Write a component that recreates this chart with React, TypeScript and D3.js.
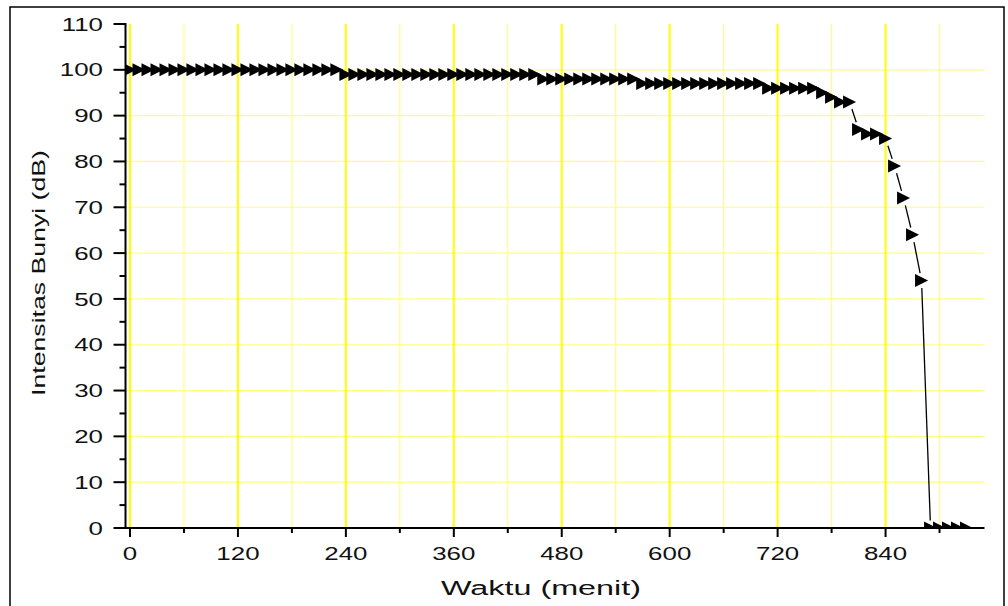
import React, { useEffect, useRef } from "react";
import * as d3 from "d3";

const minutes = [
  0, 10, 20, 30, 40, 50, 60, 70, 80, 90, 100, 110, 120, 130, 140, 150, 160, 170, 180, 190, 200, 210, 220, 230,
  240, 250, 260, 270, 280, 290, 300, 310, 320, 330, 340, 350, 360, 370, 380, 390, 400, 410, 420, 430, 440, 450,
  460, 470, 480, 490, 500, 510, 520, 530, 540, 550, 560,
  570, 580, 590, 600, 610, 620, 630, 640, 650, 660, 670, 680, 690, 700,
  710, 720, 730, 740, 750, 760,
  770, 780, 790, 800,
  810, 820, 830, 840, 850, 860, 870, 880,
  890, 900, 910, 920, 930,
];

const intensity = [
  100, 100, 100, 100, 100, 100, 100, 100, 100, 100, 100, 100, 100, 100, 100, 100, 100, 100, 100, 100, 100, 100, 100, 100,
  99, 99, 99, 99, 99, 99, 99, 99, 99, 99, 99, 99, 99, 99, 99, 99, 99, 99, 99, 99, 99, 99,
  98, 98, 98, 98, 98, 98, 98, 98, 98, 98, 98,
  97, 97, 97, 97, 97, 97, 97, 97, 97, 97, 97, 97, 97, 97,
  96, 96, 96, 96, 96, 96,
  95, 94, 93, 93,
  87, 86, 86, 85, 79, 72, 64, 54,
  0, 0, 0, 0, 0,
];

const xTickValues = [0, 120, 240, 360, 480, 600, 720, 840];
const xMinorValues = [60, 180, 300, 420, 540, 660, 780, 900];
const yTickValues = [0, 10, 20, 30, 40, 50, 60, 70, 80, 90, 100, 110];
const yMinorValues = [5, 15, 25, 35, 45, 55, 65, 75, 85, 95, 105];
const yGridValues = [10, 20, 30, 40, 50, 60, 70, 80, 90, 100];
const xTitle = "Waktu (menit)";
const yTitle = "Intensitas Bunyi (dB)";

const FONT = "'Liberation Sans', Arial, sans-serif";

export default function App() {
  const ref = useRef<SVGSVGElement>(null);

  useEffect(() => {
    const svg = d3.select(ref.current);
    svg.selectAll("*").remove();

    const left = 125.5, right = 984.5, top = 24, bottom = 528;
    const x = d3.scaleLinear().domain([-5, 950]).range([left, right]);
    const y = d3.scaleLinear().domain([0, 110]).range([bottom, top]);

    // outer frame
    svg.append("rect").attr("x", 10).attr("y", 7).attr("width", 994).attr("height", 610)
      .attr("fill", "white").attr("stroke", "black").attr("stroke-width", 1.5);

    // grid
    const g = svg.append("g");
    g.selectAll("line.hg").data(yGridValues).enter().append("line")
      .attr("x1", left).attr("x2", right).attr("y1", (d) => y(d)).attr("y2", (d) => y(d))
      .attr("stroke", "#ffff80").attr("stroke-width", 1.2);
    g.selectAll("line.vm").data(xMinorValues).enter().append("line")
      .attr("x1", (d) => x(d)).attr("x2", (d) => x(d)).attr("y1", top).attr("y2", bottom)
      .attr("stroke", "#ffff80").attr("stroke-width", 1.2);
    g.selectAll("line.vM").data(xTickValues).enter().append("line")
      .attr("x1", (d) => x(d)).attr("x2", (d) => x(d)).attr("y1", top).attr("y2", bottom)
      .attr("stroke", "#ffff00").attr("stroke-width", 2);

    // clip
    svg.append("defs").append("clipPath").attr("id", "plotclip").append("rect")
      .attr("x", left).attr("y", top).attr("width", right - left).attr("height", bottom - top);

    const data = minutes.map((m, i) => ({ px: x(m), py: y(intensity[i]) }));
    const dg = svg.append("g").attr("clip-path", "url(#plotclip)");

    // connecting line with gaps near symbols
    const gap = 7.5;
    for (let i = 0; i < data.length - 1; i++) {
      const a = data[i], b = data[i + 1];
      const dx = b.px - a.px, dy = b.py - a.py;
      const L = Math.hypot(dx, dy);
      if (L <= 2 * gap) continue;
      const ux = dx / L, uy = dy / L;
      dg.append("line")
        .attr("x1", a.px + ux * gap).attr("y1", a.py + uy * gap)
        .attr("x2", b.px - ux * gap).attr("y2", b.py - uy * gap)
        .attr("stroke", "black").attr("stroke-width", 1.3);
    }

    // triangle markers pointing right
    const w = 13, h = 13;
    dg.selectAll("path.m").data(data).enter().append("path")
      .attr("d", (d) => `M${d.px - w / 2},${d.py - h / 2}L${d.px + w / 2},${d.py}L${d.px - w / 2},${d.py + h / 2}Z`)
      .attr("fill", "black");

    // axes
    const ax = svg.append("g");
    ax.append("line").attr("x1", left).attr("x2", right).attr("y1", bottom).attr("y2", bottom)
      .attr("stroke", "black").attr("stroke-width", 2);
    ax.append("line").attr("x1", left).attr("x2", left).attr("y1", top - 1).attr("y2", bottom + 1)
      .attr("stroke", "black").attr("stroke-width", 2);

    ax.selectAll("line.xt").data(xTickValues).enter().append("line")
      .attr("x1", (d) => x(d)).attr("x2", (d) => x(d)).attr("y1", bottom).attr("y2", bottom + 9)
      .attr("stroke", "black").attr("stroke-width", 2);
    ax.selectAll("line.xm").data(xMinorValues).enter().append("line")
      .attr("x1", (d) => x(d)).attr("x2", (d) => x(d)).attr("y1", bottom).attr("y2", bottom + 5)
      .attr("stroke", "black").attr("stroke-width", 2);
    ax.selectAll("line.yt").data(yTickValues).enter().append("line")
      .attr("x1", left - 12).attr("x2", left).attr("y1", (d) => y(d)).attr("y2", (d) => y(d))
      .attr("stroke", "black").attr("stroke-width", 2);
    ax.selectAll("line.ym").data(yMinorValues).enter().append("line")
      .attr("x1", left - 6).attr("x2", left).attr("y1", (d) => y(d)).attr("y2", (d) => y(d))
      .attr("stroke", "black").attr("stroke-width", 2);

    ax.selectAll("text.xl").data(xTickValues).enter().append("text")
      .attr("transform", (d) => `translate(${x(d)},560) scale(1.4,1)`)
      .attr("text-anchor", "middle").attr("font-family", FONT).attr("font-size", 18.5)
      .attr("fill", "#111").text((d) => String(d));
    ax.selectAll("text.yl").data(yTickValues).enter().append("text")
      .attr("transform", (d) => `translate(103,${y(d) + 6.6}) scale(1.4,1)`)
      .attr("text-anchor", "end").attr("font-family", FONT).attr("font-size", 18.5)
      .attr("fill", "#111").text((d) => String(d));

    svg.append("text").attr("x", 541).attr("y", 595)
      .attr("text-anchor", "middle").attr("font-family", FONT).attr("font-size", 20)
      .attr("textLength", 200).attr("lengthAdjust", "spacingAndGlyphs")
      .attr("fill", "#111").text(xTitle);
    svg.append("text").attr("transform", "translate(45,273) rotate(-90)")
      .attr("text-anchor", "middle").attr("font-family", FONT).attr("font-size", 19)
      .attr("textLength", 246).attr("lengthAdjust", "spacingAndGlyphs")
      .attr("fill", "#111").text(yTitle);
  }, []);

  return (
    <svg
      ref={ref}
      width={1008}
      height={606}
      style={{ position: "absolute", left: 0, top: 0, display: "block" }}
    />
  );
}
